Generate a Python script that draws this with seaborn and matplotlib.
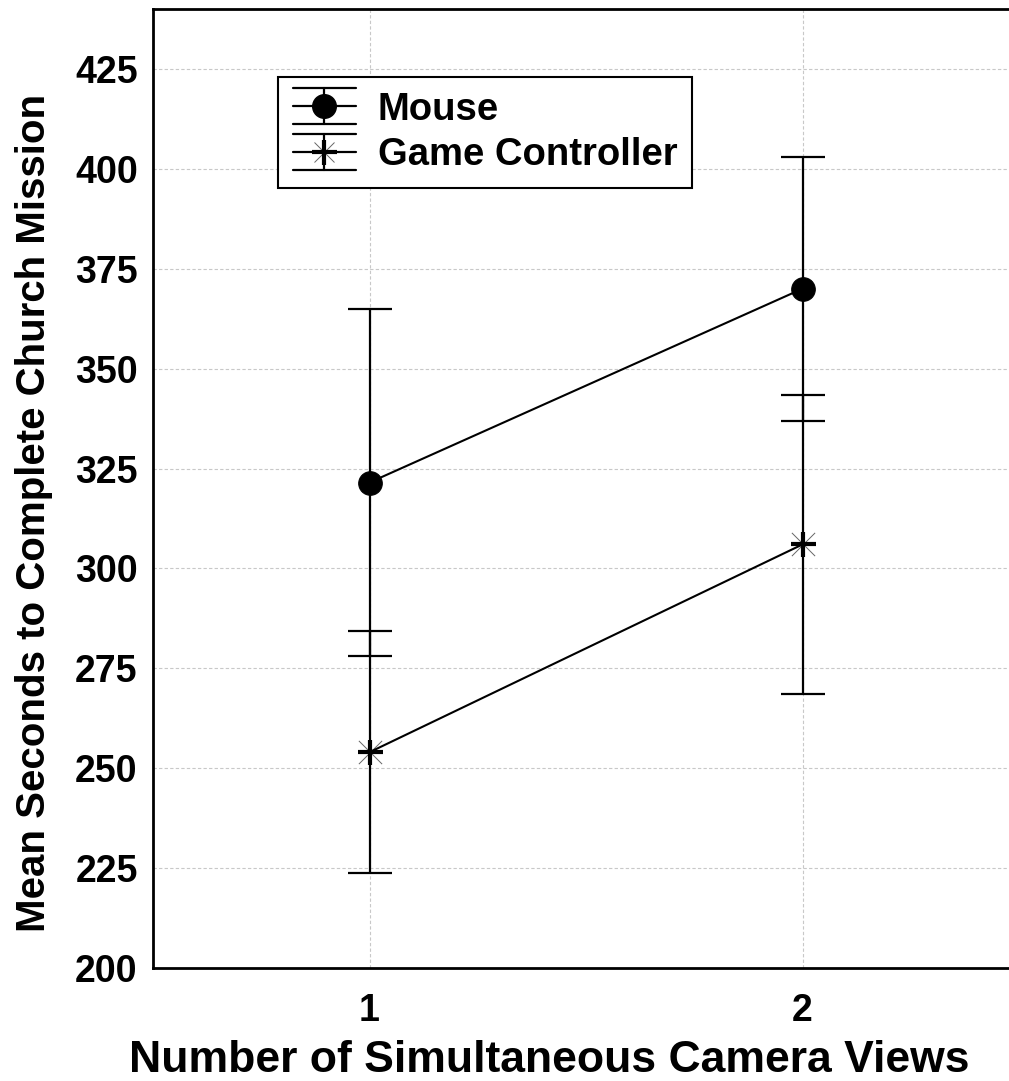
import numpy as np
import pandas as pd
import seaborn as sns
import matplotlib.pyplot as plt
from matplotlib.legend_handler import HandlerBase
from matplotlib.lines import Line2D

# data
views = [1, 2]
devices = ["Mouse", "Game Controller"]
mouse_mean = [321.5, 370.0]
mouse_err = [43.5, 33.0]
gc_mean = [254.0, 306.0]
gc_err = [30.25, 37.5]
yticks = [200, 225, 250, 275, 300, 325, 350, 375, 400, 425]
xlabel = "Number of Simultaneous Camera Views"
ylabel = "Mean Seconds to Complete Church Mission"

df = pd.DataFrame({
    "views": views * 2,
    "device": [devices[0]] * 2 + [devices[1]] * 2,
    "seconds": mouse_mean + gc_mean,
    "err": mouse_err + gc_err,
})

sns.set_style("white")
plt.rcParams["font.family"] = ["Liberation Sans", "DejaVu Sans"]
plt.rcParams["font.weight"] = "bold"
plt.rcParams["text.color"] = "black"
plt.rcParams["axes.labelcolor"] = "black"

fig = plt.figure(figsize=(10.09, 10.81), dpi=100)
ax = fig.add_axes([153 / 1009, 113 / 1081, 866 / 1009, 959 / 1081])

ax.grid(True, color="#c8c8c8", linestyle=(0, (3, 2)), lw=0.8)
ax.set_axisbelow(True)

# error bars
for dev in devices:
    d = df[df.device == dev]
    ax.errorbar(d.views, d.seconds, yerr=d.err, fmt="none", ecolor="black",
                elinewidth=1.6, capsize=16, capthick=1.6, zorder=2)

dm = df[df.device == "Mouse"]
dg = df[df.device == "Game Controller"]
sns.lineplot(data=dm, x="views", y="seconds", ax=ax, color="black", lw=1.5,
             marker="o", ms=17, mec="black", mfc="black", zorder=3)
sns.scatterplot(data=dg, x="views", y="seconds", ax=ax, marker="x", s=280,
                color="#666666", linewidth=0.7, zorder=3)
sns.lineplot(data=dg, x="views", y="seconds", ax=ax, color="black", lw=1.5,
             marker="+", ms=18, mew=3, mec="black", zorder=4)


class ErrHandler(HandlerBase):
    def __init__(self, star=False):
        super().__init__()
        self.star = star

    def create_artists(self, legend, orig, xdescent, ydescent, width, height,
                       fontsize, trans):
        cy = height / 2 - ydescent
        cx = width / 2 - xdescent
        h = fontsize * 0.48
        arts = []
        for yy in (cy - h, cy, cy + h):
            arts.append(Line2D([-xdescent, width - xdescent], [yy, yy],
                               color="black", lw=1.6))
        arts.append(Line2D([cx, cx], [cy - h, cy + h], color="black", lw=1.6))
        if self.star:
            arts.append(Line2D([cx], [cy], marker="x", ms=15, mew=0.7,
                               color="#666666", ls=""))
            arts.append(Line2D([cx], [cy], marker="+", ms=18, mew=3,
                               color="black", ls=""))
        else:
            arts.append(Line2D([cx], [cy], marker="o", ms=17, color="black",
                               ls=""))
        for a in arts:
            a.set_transform(trans)
        return arts


h1 = Line2D([], [], color="black")
h2 = Line2D([], [], color="black", ls="--")
leg = ax.legend([h1, h2], devices, loc="upper left",
                bbox_to_anchor=(278 / 1009, 1 - 77 / 1081),
                bbox_transform=fig.transFigure,
                handler_map={h1: ErrHandler(False), h2: ErrHandler(True)},
                prop={"size": 27.5, "weight": "bold"}, fancybox=False,
                framealpha=1, edgecolor="black", handlelength=1.65,
                handletextpad=0.58, labelspacing=0.26, borderpad=0.38,
                borderaxespad=0)
leg.get_frame().set_linewidth(1.5)

ax.set_xlim(0.5, 2.5)
ax.set_ylim(200, 440)
ax.set_xticks(views)
ax.set_yticks(yticks)
ax.tick_params(direction="in", length=6, width=1.5, labelsize=27,
               colors="black")
ax.tick_params(axis="y", pad=11)
ax.tick_params(axis="x", pad=18)
for s in ax.spines.values():
    s.set_linewidth(2)
    s.set_color("black")

ax.set_xlabel(xlabel, fontsize=32, fontweight="bold")
ax.set_ylabel(ylabel, fontsize=29, fontweight="bold")
ax.xaxis.set_label_coords(0.458, -0.075)
ax.yaxis.set_label_coords(-0.115, 0.475)

fig.savefig("out.png", dpi=100)
plt.close(fig)
